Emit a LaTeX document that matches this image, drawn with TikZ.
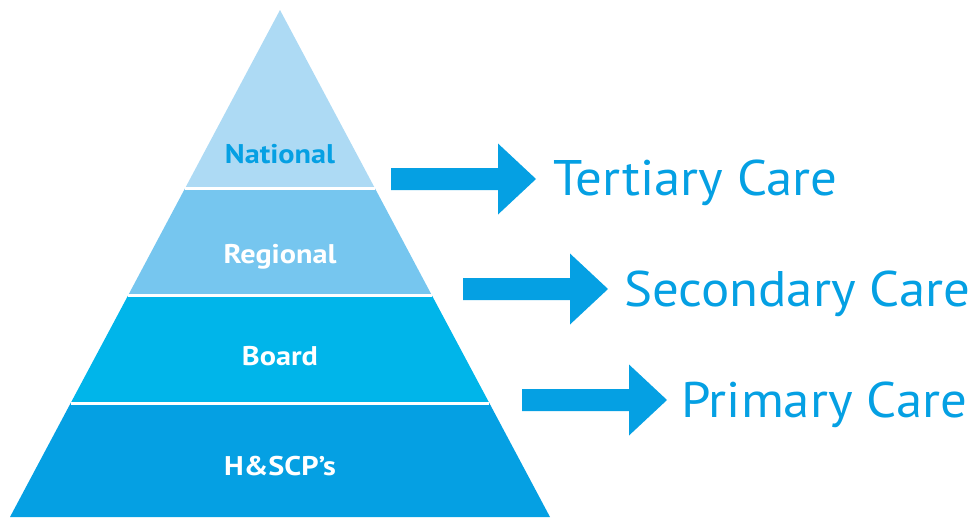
\documentclass[tikz,border=0pt]{standalone}
\usepackage{fontspec}
\setmainfont{PT Sans}
\definecolor{lay1}{HTML}{ADDAF4}
\definecolor{lay2}{HTML}{76C6EF}
\definecolor{lay3}{HTML}{00B5EA}
\definecolor{lay4}{HTML}{05A0E3}
\definecolor{cblue}{HTML}{05A0E3}
\newcommand{\lvltext}[1]{\scalebox{1.12}[1]{#1}}
\newcommand{\caretext}[1]{\scalebox{1.057}[1]{#1}}
\tikzset{
  lvl/.style={font=\fontsize{27}{30}\selectfont\bfseries, text=white, anchor=base, inner sep=0pt},
  care/.style={font=\fontsize{50}{56}\selectfont, text=cblue, anchor=base west, inner sep=0pt},
  sep/.style={white, line width=3pt},
  blockarrow/.pic={\fill[cblue] (0,-11) -- (107,-11) -- (107,-35.5) -- (145,0) -- (107,35.5) -- (107,11) -- (0,11) -- cycle;}
}
\begin{document}
\begin{tikzpicture}[x=1pt,y=-1pt]
\useasboundingbox (0,0) rectangle (974,517);
% layers: left x = 280-0.5325*(y-10), right = 280+0.5325*(y-10)
\fill[lay1] (280,10) -- (374.8,188) -- (185.2,188) -- cycle;
\fill[lay2] (185.2,188) -- (374.8,188) -- (431.7,295) -- (128.3,295) -- cycle;
\fill[lay3] (128.3,295) -- (431.7,295) -- (489.3,403) -- (70.7,403) -- cycle;
\fill[lay4] (70.7,403) -- (489.3,403) -- (550,517) -- (10,517) -- cycle;
\draw[sep] (185.2,188) -- (374.8,188);
\draw[sep] (128.3,295) -- (431.7,295);
\draw[sep] (70.7,403) -- (489.3,403);
% labels
\node[lvl, text=cblue] (nat) at (280,163) {\lvltext{National}};
\node[lvl] (reg) at (280,263) {\lvltext{Regional}};
\node[lvl] (brd) at (280,365) {\lvltext{Board}};
\node[lvl] (hsc) at (280,475) {\lvltext{H\&SCP’s}};
% arrows
\pic at (391,179) {blockarrow};
\pic at (463,289) {blockarrow};
\pic at (522,400) {blockarrow};
% care texts
\node[care] (ter) at (553,195) {\caretext{Tertiary Care}};
\node[care] (sec) at (624,306) {\caretext{Secondary Care}};
\node[care] (pri) at (681,417) {\caretext{Primary Care}};
\end{tikzpicture}
\end{document}
